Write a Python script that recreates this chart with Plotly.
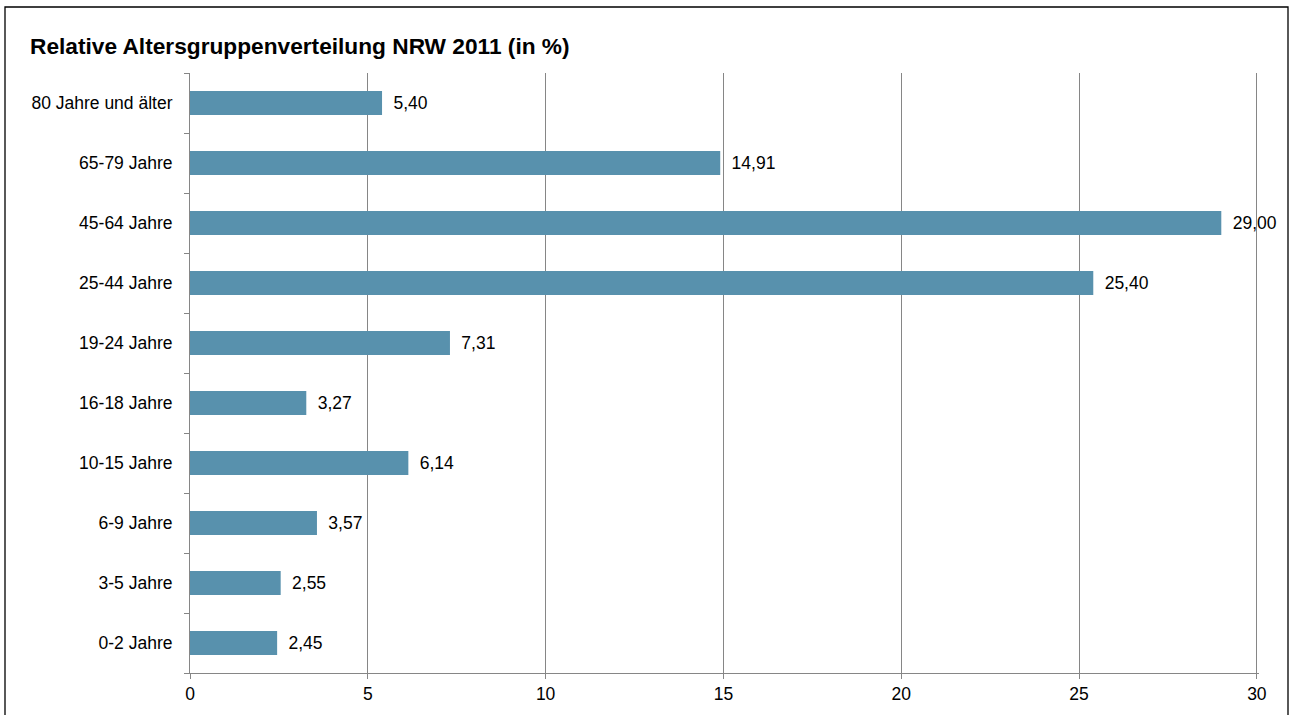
import plotly.graph_objects as go

categories = ["0-2 Jahre", "3-5 Jahre", "6-9 Jahre", "10-15 Jahre", "16-18 Jahre",
              "19-24 Jahre", "25-44 Jahre", "45-64 Jahre", "65-79 Jahre", "80 Jahre und älter"]
values = [2.45, 2.55, 3.57, 6.14, 3.27, 7.31, 25.40, 29.00, 14.91, 5.40]
x_ticks = [0, 5, 10, 15, 20, 25, 30]

labels = ["\u00a0\u2009" + f"{v:.2f}".replace(".", ",") for v in values]

FONT = "Liberation Sans, Arial"
PLOT_W = 1290 - 190 - 31

fig = go.Figure(go.Bar(
    y=categories, x=values, orientation="h",
    marker=dict(color="#5891ad", line=dict(width=0)),
    text=labels, textposition="outside", cliponaxis=False,
    textfont=dict(family=FONT, size=17.5, color="#000000"),
))

fig.update_layout(
    width=1290, height=715,
    margin=dict(l=190, r=31, t=73, b=42),
    paper_bgcolor="white", plot_bgcolor="white",
    bargap=0.6, showlegend=False,
    font=dict(family=FONT, size=17.5, color="#000000"),
    title=dict(text="<b>Relative Altersgruppenverteilung NRW 2011 (in %)</b>",
               x=30/1290, xref="container", xanchor="left",
               y=1-46/715, yref="container", yanchor="middle",
               font=dict(family=FONT, size=22.7, color="#000000")),
    xaxis=dict(range=[0, 30.06], tickvals=x_ticks, ticktext=[str(t) for t in x_ticks],
               showgrid=True, gridcolor="#868686", gridwidth=1,
               showline=True, linecolor="#868686", linewidth=1,
               ticks="outside", ticklen=5, tickcolor="#868686",
               zeroline=False, tickfont=dict(size=17.5)),
    yaxis=dict(categoryorder="array", categoryarray=categories,
               showline=True, linecolor="#868686", linewidth=1,
               ticks="outside", ticklen=5, tickcolor="#868686", tickson="boundaries",
               ticklabelstandoff=13,
               showgrid=False, zeroline=False, tickfont=dict(size=17.5)),
    shapes=[dict(type="rect", xref="paper", yref="paper",
                 x0=(5-190)/PLOT_W, x1=(1288-190)/PLOT_W,
                 y0=(673-730)/600, y1=(673-7)/600,
                 line=dict(color="#000000", width=1.3), fillcolor="rgba(0,0,0,0)", layer="below")],
)

fig.write_html("out.html", config={"displayModeBar": False},
               post_script="document.body.style.margin='0';document.body.style.overflow='hidden';")
